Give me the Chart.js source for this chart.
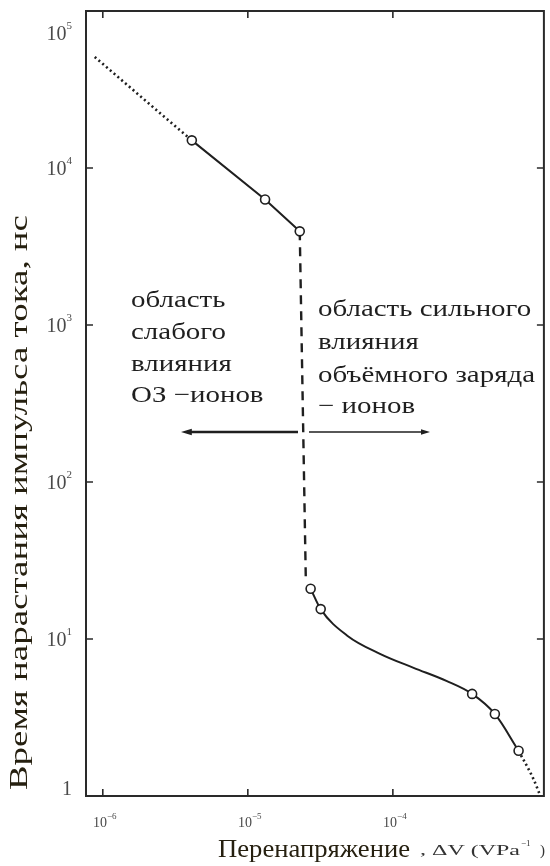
<!DOCTYPE html>
<html>
<head>
<meta charset="utf-8">
<script src="https://cdn.jsdelivr.net/npm/chart.js@4.4.1/dist/chart.umd.min.js"></script>
<style>
  html, body { margin: 0; padding: 0; background: #fff; }
  #wrap { width: 550px; height: 866px; }
</style>
</head>
<body>
<div id="wrap"><canvas id="chart" width="550" height="866"></canvas></div>
<script>
// upper branch: weak space-charge influence
const upperDotX = [8.8e-7, 4.11e-6];
const upperDotY = [50900, 15000];
const upperX = [4.11e-6, 1.315e-5, 2.28e-5];
const upperY = [15000, 6300, 3950];
// jump between branches
const jumpX = [2.28e-5, 2.51e-5];
const jumpY = [3950, 24.2];
// lower branch: strong space-charge influence
const lowerX = [2.71e-5, 3.18e-5, 4.85e-5, 8.15e-5, 1.39e-4, 2.34e-4, 3.52e-4, 5.05e-4, 7.36e-4];
const lowerY = [20.9, 15.5, 10.5, 8.05, 6.55, 5.41, 4.47, 3.33, 1.94];
const tailX = [7.36e-4, 9.33e-4, 1.04e-3];
const tailY = [1.94, 1.28, 1.0];
// measured points (open circles)
const markX = [4.11e-6, 1.315e-5, 2.28e-5, 2.71e-5, 3.18e-5, 3.52e-4, 5.05e-4, 7.36e-4];
const markY = [15000, 6300, 3950, 20.9, 15.5, 4.47, 3.33, 1.94];

const xTicks = [1e-6, 1e-5, 1e-4];
const xTickLabels = [["10", "−6"], ["10", "−5"], ["10", "−4"]];
const yTicks = [1, 10, 100, 1000, 1e4, 1e5];
const yTickLabels = [["1", ""], ["10", "1"], ["10", "2"], ["10", "3"], ["10", "4"], ["10", "5"]];

const leftNote = ["область", "слабого", "влияния", "ОЗ −ионов"];
const rightNote = ["область сильного", "влияния", "объёмного заряда", "− ионов"];
const yTitle = "Время нарастания импульса тока, нс";
const xTitle = "Перенапряжение";
const xUnit = ", ΔV (VPa";

const pts = (xs, ys) => xs.map((x, i) => ({ x: x, y: ys[i] }));
const INK = "#1f1f1f";
const SERIF = "'Liberation Serif', 'DejaVu Serif', serif";

function stretchText(ctx, str, x, y, w) {
  const m = ctx.measureText(str).width;
  ctx.save();
  ctx.translate(x, y);
  ctx.scale(w / m, 1);
  ctx.fillText(str, 0, 0);
  ctx.restore();
}

function arrow(ctx, x1, x2, y, lw, head) {
  const dir = Math.sign(x2 - x1);
  ctx.lineWidth = lw;
  ctx.beginPath();
  ctx.moveTo(x1, y);
  ctx.lineTo(x2 - dir * head, y);
  ctx.stroke();
  ctx.beginPath();
  ctx.moveTo(x2, y);
  ctx.lineTo(x2 - dir * head * 1.8, y - head * 0.55);
  ctx.lineTo(x2 - dir * head * 1.8, y + head * 0.55);
  ctx.closePath();
  ctx.fill();
}

const decor = {
  id: "decor",
  afterDraw(chart) {
    const ctx = chart.ctx;
    const a = chart.chartArea;
    const xs = chart.scales.x, ys = chart.scales.y;
    ctx.save();

    // frame
    ctx.strokeStyle = "#2a2a2a";
    ctx.lineWidth = 2;
    ctx.strokeRect(a.left, a.top, a.right - a.left, a.bottom - a.top);

    // inward ticks
    ctx.lineWidth = 1.6;
    ctx.beginPath();
    yTicks.forEach(v => {
      const p = ys.getPixelForValue(v);
      if (p < a.top + 3 || p > a.bottom - 3) return;
      ctx.moveTo(a.left, p); ctx.lineTo(a.left + 7, p);
      ctx.moveTo(a.right, p); ctx.lineTo(a.right - 7, p);
    });
    xTicks.forEach(v => {
      const p = xs.getPixelForValue(v);
      ctx.moveTo(p, a.bottom); ctx.lineTo(p, a.bottom - 7);
      ctx.moveTo(p, a.top); ctx.lineTo(p, a.top + 7);
    });
    ctx.stroke();

    // tick labels
    ctx.fillStyle = "#4a4a4a";
    ctx.textBaseline = "middle";
    yTicks.forEach((v, i) => {
      let p = ys.getPixelForValue(v);
      p = Math.min(Math.max(p, 33), 788);
      const [b, e] = yTickLabels[i];
      ctx.font = "11px " + SERIF;
      const we = e ? ctx.measureText(e).width : 0;
      ctx.textAlign = "left";
      if (e) ctx.fillText(e, 72 - we, p - 7);
      ctx.font = "20px " + SERIF;
      ctx.textAlign = "right";
      ctx.fillText(b, 72 - we, p + 2);
    });
    xTicks.forEach((v, i) => {
      const p = xs.getPixelForValue(v) + 2;
      const [b, e] = xTickLabels[i];
      ctx.font = "14px " + SERIF;
      const wb = ctx.measureText(b).width;
      ctx.font = "9px " + SERIF;
      const we = ctx.measureText(e).width;
      const s = p - (wb + we) / 2;
      ctx.textAlign = "left";
      ctx.font = "14px " + SERIF;
      ctx.fillText(b, s, 823);
      ctx.font = "9px " + SERIF;
      ctx.fillText(e, s + wb, 817);
    });

    // notes
    ctx.fillStyle = INK;
    ctx.strokeStyle = INK;
    ctx.textAlign = "left";
    ctx.textBaseline = "middle";
    ctx.font = "23px " + SERIF;
    const sx = 217 / ctx.measureText(rightNote[2]).width;
    const leftY = [301, 333, 365, 396];
    const rightY = [310, 343, 376, 407];
    leftNote.forEach((t, i) => stretchText(ctx, t, 131, leftY[i], ctx.measureText(t).width * sx));
    rightNote.forEach((t, i) => stretchText(ctx, t, 318, rightY[i], ctx.measureText(t).width * sx));

    arrow(ctx, 298, 181, 432, 2.4, 6);
    arrow(ctx, 309, 430, 432, 1.5, 5);

    // axis titles
    ctx.fillStyle = "#262010";
    ctx.font = "26px " + SERIF;
    ctx.save();
    ctx.translate(20, 790);
    ctx.rotate(-Math.PI / 2);
    stretchText(ctx, yTitle, 0, 0, 575);
    ctx.restore();

    ctx.font = "26px " + SERIF;
    stretchText(ctx, xTitle, 218, 850, 192);
    ctx.fillStyle = "#333";
    ctx.font = "15px " + SERIF;
    stretchText(ctx, xUnit, 420, 851, 100);
    ctx.font = "9px " + SERIF;
    ctx.fillText("−1", 521, 844);
    ctx.font = "15px " + SERIF;
    ctx.fillText(")", 540, 851);

    ctx.restore();
  }
};

const lineStyle = { borderColor: INK, pointRadius: 0, fill: false, order: 1 };

new Chart(document.getElementById("chart"), {
  type: "scatter",
  data: {
    datasets: [
      Object.assign({ data: pts(upperDotX, upperDotY), showLine: true, borderWidth: 2.6, borderDash: [2, 3] }, lineStyle),
      Object.assign({ data: pts(upperX, upperY), showLine: true, borderWidth: 2 }, lineStyle),
      Object.assign({ data: pts(jumpX, jumpY), showLine: true, borderWidth: 2.4, borderDash: [9, 7] }, lineStyle),
      Object.assign({ data: pts(lowerX, lowerY), showLine: true, borderWidth: 2, cubicInterpolationMode: "monotone" }, lineStyle),
      Object.assign({ data: pts(tailX, tailY), showLine: true, borderWidth: 2.6, borderDash: [2, 3], cubicInterpolationMode: "monotone" }, lineStyle),
      {
        data: pts(markX, markY),
        order: 0,
        showLine: false,
        pointRadius: 4.5,
        pointBorderWidth: 1.6,
        pointBackgroundColor: "#fff",
        pointBorderColor: INK
      }
    ]
  },
  options: {
    responsive: false,
    animation: false,
    events: [],
    layout: { padding: { left: 86, right: 3, top: 11, bottom: 70 } },
    plugins: { legend: { display: false }, tooltip: { enabled: false } },
    scales: {
      x: { type: "logarithmic", display: false, min: 7.66e-7, max: 1.1e-3 },
      y: { type: "logarithmic", display: false, min: 1, max: 1e5 }
    }
  },
  plugins: [decor]
});
</script>
</body>
</html>
